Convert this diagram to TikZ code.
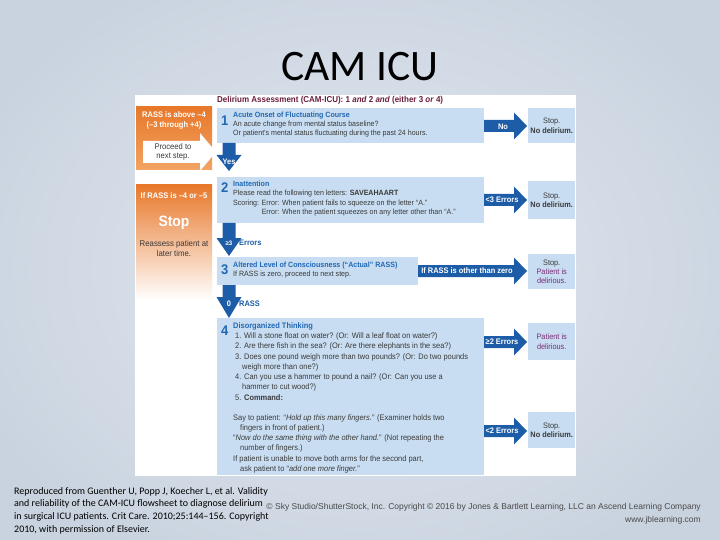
\documentclass[tikz,border=0pt]{standalone}
\usepackage{fontspec}
\setmainfont{Liberation Sans}
\newfontfamily\figf[FakeStretch=0.93]{Liberation Sans}
\newfontfamily\cali{Carlito}
\definecolor{bgin}{HTML}{E3E9F1}
\definecolor{bgout}{HTML}{C9D3DF}
\definecolor{lblue}{HTML}{C8DDF1}
\definecolor{dblue}{HTML}{1D5DA8}
\definecolor{hblue}{HTML}{2168B4}
\definecolor{orng}{HTML}{E8782A}
\definecolor{orngl}{HTML}{F2A463}
\definecolor{maroon}{HTML}{6A1D3E}
\definecolor{purp}{HTML}{7A2C78}
\definecolor{txt}{HTML}{3A3A3A}
\definecolor{copyg}{HTML}{4A4A4A}
% right block arrow: x1, x2 (tip), y centre
\newcommand\rblock[3]{\fill[dblue] (#1,#3-6) -- (#2-13,#3-6) -- (#2-13,#3-13.5) -- (#2,#3) -- (#2-13,#3+13.5) -- (#2-13,#3+6) -- (#1,#3+6) -- cycle;}
% down block arrow: y1, head base, tip, x centre
\newcommand\dblock[4]{\fill[dblue] (#4-6.5,#1) -- (#4+6.5,#1) -- (#4+6.5,#2) -- (#4+12.5,#2) -- (#4,#3) -- (#4-12.5,#2) -- (#4-6.5,#2) -- cycle;}
\newcommand\hd[1]{\textcolor{hblue}{\bfseries #1}}
\begin{document}
\begin{tikzpicture}[x=1pt,y=-1pt,
  bluebox/.style={fill=lblue, draw=none, anchor=north west, inner sep=0},
  body/.style={font=\figf\fontsize{7.6}{9.2}\selectfont, text=txt, anchor=north west, inner sep=0, align=left},
  bodyb/.style={font=\figf\fontsize{8}{10.2}\selectfont, text=txt, anchor=north west, inner sep=0, align=left},
  num/.style={font=\figf\bfseries\fontsize{14}{14}\selectfont, text=hblue, anchor=west, inner sep=0},
  albl/.style={font=\figf\bfseries\fontsize{8}{9}\selectfont, text=white, inner sep=0},
  rtxt/.style={font=\figf\fontsize{7.9}{9.4}\selectfont, text=txt, align=center, inner sep=0},
  foot/.style={font=\cali\fontsize{10}{12.7}\selectfont, text=black, anchor=north west, inner sep=0, align=left}]
\useasboundingbox (0,0) rectangle (720,540);
\shade[inner color=bgin, outer color=bgout] (-60,-60) rectangle (780,600);
\node[font=\cali\fontsize{43.5}{44}\selectfont, text=black] (title) at (360,67) {CAM ICU};
% white panel
\fill[white] (135,95) rectangle (576,476);
% header
\node[font=\figf\bfseries\fontsize{8.6}{9}\selectfont, text=maroon, anchor=west, inner sep=0] (hdr) at (217,100) {Delirium Assessment (CAM-ICU):\ 1 \textit{and} 2 \textit{and} (either 3 \textit{or} 4)};
% orange boxes
\shade[top color=orng, bottom color=orngl] (136,107) rectangle (212,170);
\node[font=\figf\bfseries\fontsize{8.1}{10}\selectfont, text=white, align=center, inner sep=0] (o1) at (174,120) {RASS is above –4\\(–3 through +4)};
\fill[white] (143,141) -- (200,141) -- (200,133) -- (216,152) -- (200,171) -- (200,163) -- (143,163) -- cycle;
\node[font=\figf\fontsize{8.2}{9.6}\selectfont, text=txt, align=center, inner sep=0] (pn) at (173,152) {Proceed to\\next step.};
\shade[top color=orng, bottom color=white] (136,185) rectangle (212,300);
\node[font=\figf\bfseries\fontsize{8.1}{9}\selectfont, text=white, inner sep=0] (o2) at (174,196) {If RASS is –4 or –5};
\node[font=\figf\bfseries\fontsize{15}{15}\selectfont, text=white, inner sep=0] (stp) at (174,223) {Stop};
\node[font=\figf\fontsize{8.4}{10}\selectfont, text=txt, align=center, inner sep=0] (re) at (174,248) {Reassess patient at\\later time.};
% blue boxes
\node[bluebox, minimum width=267, minimum height=35] (b1) at (217,108) {};
\node[bluebox, minimum width=267, minimum height=46] (b2) at (217,177) {};
\node[bluebox, minimum width=201, minimum height=28] (b3) at (217,257) {};
\node[bluebox, minimum width=267, minimum height=157] (b4) at (217,318) {};
% right boxes
\node[bluebox, minimum width=47, minimum height=35] (r1) at (528,108) {};
\node[bluebox, minimum width=47, minimum height=38] (r2) at (528,181) {};
\node[bluebox, minimum width=47, minimum height=35] (r3) at (528,254) {};
\node[bluebox, minimum width=47, minimum height=37] (r4) at (528,323) {};
\node[bluebox, minimum width=47, minimum height=36] (r5) at (528,412) {};
\node[rtxt] (rt1) at (r1.center) {Stop.\\\textbf{No delirium.}};
\node[rtxt] (rt2) at (r2.center) {Stop.\\\textbf{No delirium.}};
\node[rtxt] (rt3) at (r3.center) {Stop.\\\textcolor{purp}{Patient is}\\\textcolor{purp}{delirious.}};
\node[rtxt, text=purp] (rt4) at (r4.center) {Patient is\\delirious.};
\node[rtxt] (rt5) at (r5.center) {Stop.\\\textbf{No delirium.}};
% box 1 text
\node[num] (n1) at (221,121) {1};
\node[body] (t1) at (233,111.8) {\hd{Acute Onset of Fluctuating Course}\\An acute change from mental status baseline?\\Or patient’s mental status fluctuating during the past 24 hours.};
% box 2
\node[num] (n2) at (221,188) {2};
\node[body, font=\figf\fontsize{7.6}{9.5}\selectfont] (t2) at (233,180.6) {\hd{Inattention}\\Please read the following ten letters: \textbf{SAVEAHAART}\\Scoring: Error: When patient fails to squeeze on the letter “A.”\\\phantom{Scoring: }Error: When the patient squeezes on any letter other than “A.”};
% box 3
\node[num] (n3) at (221,270) {3};
\node[body] (t3) at (233,261.8) {\hd{Altered Level of Consciousness (“Actual” RASS)}\\If RASS is zero, proceed to next step.};
% box 4
\node[num] (n4) at (221,331) {4};
\node[bodyb] (t4) at (233,322.6) {\hd{Disorganized Thinking}\\
\hspace*{2pt}1. Will a stone float on water? (Or: Will a leaf float on water?)\\
\hspace*{2pt}2. Are there fish in the sea? (Or: Are there elephants in the sea?)\\
\hspace*{2pt}3. Does one pound weigh more than two pounds? (Or: Do two pounds\\
\hspace*{9pt}weigh more than one?)\\
\hspace*{2pt}4. Can you use a hammer to pound a nail? (Or: Can you use a\\
\hspace*{9pt}hammer to cut wood?)\\
\hspace*{2pt}5. \textbf{Command:}\\[10.2pt]
Say to patient: “\textit{Hold up this many fingers.}” (Examiner holds two\\
\hspace*{7pt}fingers in front of patient.)\\
“\textit{Now do the same thing with the other hand.}” (Not repeating the\\
\hspace*{7pt}number of fingers.)\\
If patient is unable to move both arms for the second part,\\
\hspace*{7pt}ask patient to “\textit{add one more finger.}”};
% right arrows
\rblock{484}{527}{126}
\node[albl] (a1) at (503,127) {No};
\rblock{484}{527}{200}
\node[albl] (a2) at (502,200) {<3 Errors};
\rblock{418}{527}{271}
\node[albl] (a3) at (467,271) {If RASS is other than zero};
\rblock{484}{527}{342}
\node[albl] (a4) at (502,342) {≥2 Errors};
\rblock{484}{527}{431}
\node[albl] (a5) at (502,431) {<2 Errors};
% down arrows
\dblock{143}{155}{171}{229}
\node[albl] (d1) at (229,162) {Yes};
\dblock{223}{238}{256}{229}
\node[albl, font=\figf\bfseries\fontsize{6.5}{7}\selectfont] (d2) at (229,243) {≥3};
\node[albl, text=dblue, anchor=west] (d2b) at (239,243) {Errors};
\dblock{285}{297}{318}{229}
\node[albl] (d3) at (229,304) {0};
\node[albl, text=dblue, anchor=west] (d3b) at (239,304) {RASS};
% footer
\node[foot] (f1) at (14,487) {Reproduced from Guenther U, Popp J, Koecher L, et al. Validity\\and reliability of the CAM-ICU flowsheet to diagnose delirium\\in surgical ICU patients. Crit Care. 2010;25:144–156. Copyright\\2010, with permission of Elsevier.};
\node[font=\fontsize{8.5}{9}\selectfont, text=copyg, anchor=east, inner sep=0] (c1) at (701,507) {© Sky Studio/ShutterStock, Inc. Copyright © 2016 by Jones \& Bartlett Learning, LLC an Ascend Learning Company};
\node[font=\fontsize{8.5}{9}\selectfont, text=copyg, anchor=east, inner sep=0] (c2) at (701,520) {www.jblearning.com};
\end{tikzpicture}
\end{document}
